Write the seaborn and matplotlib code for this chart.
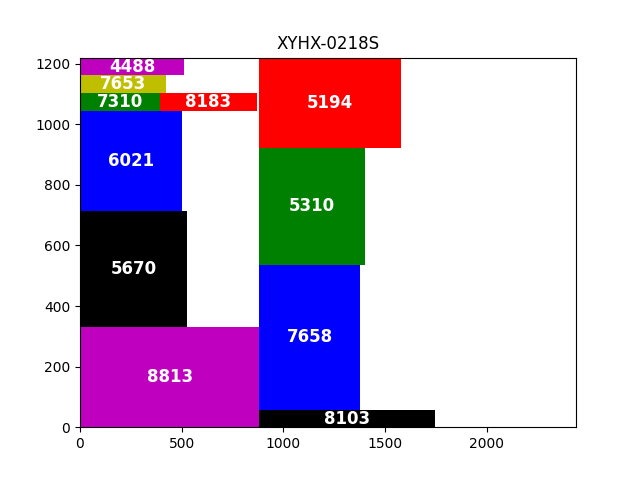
import matplotlib
matplotlib.use("Agg")
import matplotlib.pyplot as plt
import seaborn as sns

title = "XYHX-0218S"
sheet_w, sheet_h = 2440, 1220

labels = ["8813", "5670", "6021", "7310", "8183", "7653", "4488",
          "8103", "7658", "5310", "5194"]
x0 = [0, 0, 0, 0, 393, 0, 0, 882, 882, 882, 882]
y0 = [0, 330, 715, 1045, 1045, 1102, 1161, 0, 57, 537, 923]
widths = [882, 527, 502, 393, 477, 423, 512, 864, 496, 520, 696]
heights = [330, 385, 330, 57, 57, 59, 59, 57, 480, 386, 297]
colors = ["m", "k", "b", "g", "r", "y", "m", "k", "b", "g", "r"]

fig, ax = plt.subplots(figsize=(6.4, 4.8), dpi=100)
ax.bar(x0, heights, width=widths, bottom=y0, align="edge", color=colors, linewidth=0)
for lab, x, y, w, h in zip(labels, x0, y0, widths, heights):
    ax.text(x + w / 2, y + h / 2, lab, ha="center", va="center",
            color="white", fontsize=12, fontweight="bold")
ax.set_xlim(0, sheet_w)
ax.set_ylim(0, sheet_h)
ax.set_title(title)
fig.savefig("out.png", dpi=100)
